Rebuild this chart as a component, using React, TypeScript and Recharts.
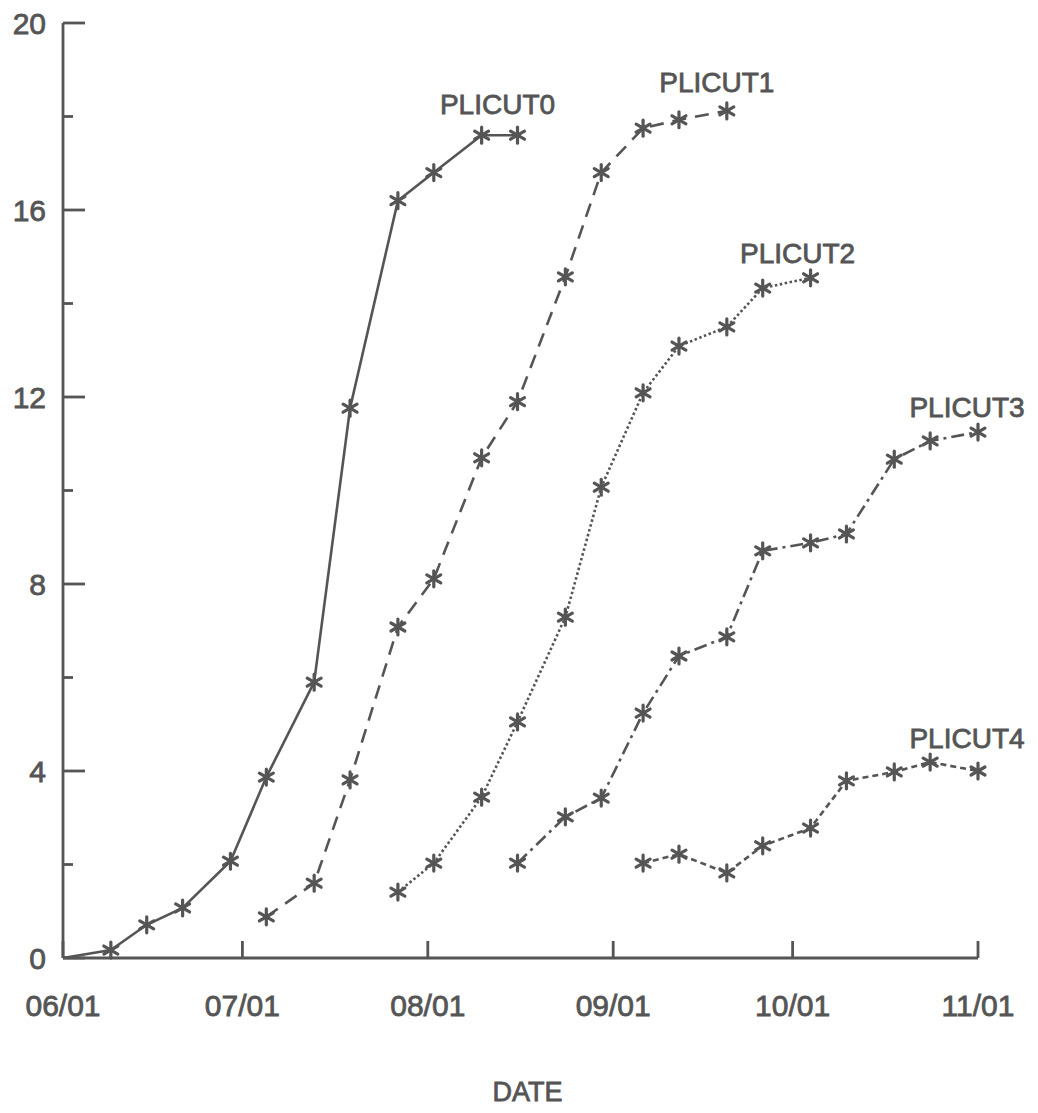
import { LineChart, Line, XAxis, YAxis, LabelList } from "recharts";

const INK = "#555555";
const FONT = '"Liberation Sans", Arial, sans-serif';

// sampling dates as days after 06/01
const SAMPLE_DAYS = [0, 8, 14, 20, 28, 34, 42, 48, 56, 62, 70, 76, 84, 90, 97, 103, 111, 117, 125, 131, 139, 145, 153];

// each cut starts at a later sampling date
const PLICUT0 = [0, 0.17, 0.71, 1.07, 2.07, 3.87, 5.9, 11.76, 16.2, 16.8, 17.6, 17.6];
const PLICUT1 = [0.88, 1.6, 3.81, 7.08, 8.11, 10.7, 11.9, 14.57, 16.8, 17.75, 17.93, 18.12];
const PLICUT2 = [1.41, 2.03, 3.44, 5.05, 7.29, 10.07, 12.09, 13.09, 13.5, 14.33, 14.55];
const PLICUT3 = [2.03, 3.02, 3.42, 5.24, 6.46, 6.87, 8.71, 8.88, 9.07, 10.67, 11.06, 11.25];
const PLICUT4 = [2.03, 2.22, 1.82, 2.4, 2.78, 3.79, 3.98, 4.19, 4.0];

const SERIES_NAMES = ["PLICUT0", "PLICUT1", "PLICUT2", "PLICUT3", "PLICUT4"];
const SERIES_START = [0, 5, 8, 11, 14];
const SERIES_VALUES = [PLICUT0, PLICUT1, PLICUT2, PLICUT3, PLICUT4];

const MONTH_TICKS = [0, 30, 61, 92, 122, 153];
const MONTH_LABELS = ["06/01", "07/01", "08/01", "09/01", "10/01", "11/01"];
const VALUE_TICKS = [0, 2, 4, 6, 8, 10, 12, 14, 16, 18, 20];

// line pattern + where the name sits relative to the last point
const LOOK: Record<string, { dash?: string; labelDx: number; labelDy: number }> = {
  PLICUT0: { dash: undefined, labelDx: -20, labelDy: -21 },
  PLICUT1: { dash: "14 9", labelDx: -10, labelDy: -19 },
  PLICUT2: { dash: "2.5 2.5", labelDx: -13, labelDy: -15 },
  PLICUT3: { dash: "13 5 3 5", labelDx: -11, labelDy: -15 },
  PLICUT4: { dash: "6 4", labelDx: -11, labelDy: -23 },
};

// thin outline so the lettering reads as heavy as pen lettering
const textInk = { fill: INK, stroke: INK, strokeWidth: 0.8, fontFamily: FONT };

const series = SERIES_NAMES.map((name, s) => ({
  name,
  data: SERIES_VALUES[s].map((v, i) => ({ day: SAMPLE_DAYS[SERIES_START[s] + i], v })),
}));

function Asterisk({ cx, cy, payload }: any) {
  if (cx == null || cy == null || payload?.v === 0) return <g />;
  const r = 8;
  const a = r * 0.87;
  const b = r * 0.5;
  return (
    <g stroke={INK} strokeWidth={3.2} strokeLinecap="round">
      <line x1={cx} y1={cy - r} x2={cx} y2={cy + r} />
      <line x1={cx - a} y1={cy - b} x2={cx + a} y2={cy + b} />
      <line x1={cx - a} y1={cy + b} x2={cx + a} y2={cy - b} />
    </g>
  );
}

function MonthTick({ x, y, payload }: any) {
  const i = MONTH_TICKS.indexOf(payload.value);
  return (
    <g>
      <line x1={x} y1={y} x2={x} y2={y - 17} stroke={INK} strokeWidth={2.8} />
      <text x={x} y={y + 58} textAnchor="middle" fontSize={30} {...textInk}>
        {MONTH_LABELS[i]}
      </text>
    </g>
  );
}

function ValueTick({ x, y, payload }: any) {
  const major = payload.value % 4 === 0;
  return (
    <g>
      <line x1={x} y1={y} x2={x + (major ? 22 : 10)} y2={y} stroke={INK} strokeWidth={2.8} />
      {major && (
        <text x={x - 17} y={y} dy="0.36em" textAnchor="end" fontSize={30} {...textInk}>
          {payload.value}
        </text>
      )}
    </g>
  );
}

function nameLabel(name: string, last: number) {
  const { labelDx, labelDy } = LOOK[name];
  return (props: any) => {
    if (props.index !== last) return null;
    return (
      <text key={name} x={props.x + labelDx} y={props.y + labelDy} textAnchor="middle" fontSize={28} {...textInk}>
        {name}
      </text>
    );
  };
}

export default function App() {
  return (
    <div style={{ background: "#fff", width: 1038, height: 1113 }}>
      <style>{"body{margin:0;background:#fff}"}</style>
      <LineChart width={1038} height={1113} margin={{ top: 23, right: 60, bottom: 0, left: 0 }}>
        <XAxis
          type="number"
          dataKey="day"
          domain={[0, 153]}
          ticks={MONTH_TICKS}
          tickSize={0}
          tickMargin={0}
          tick={<MonthTick />}
          axisLine={{ stroke: INK, strokeWidth: 2.8 }}
          height={155}
          label={{ value: "DATE", position: "insideBottom", offset: 12, dx: 7, fontSize: 27, ...textInk }}
        />
        <YAxis
          type="number"
          domain={[0, 20]}
          ticks={VALUE_TICKS}
          tickSize={0}
          tickMargin={0}
          tick={<ValueTick />}
          axisLine={{ stroke: INK, strokeWidth: 2.8 }}
          width={63}
        />
        {series.map((s) => (
          <Line
            key={s.name}
            data={s.data}
            dataKey="v"
            name={s.name}
            type="linear"
            stroke={INK}
            strokeWidth={2.6}
            strokeDasharray={LOOK[s.name].dash}
            dot={(p: any) => <Asterisk key={`${s.name}-${p.index}`} {...p} />}
            activeDot={false}
            isAnimationActive={false}
          >
            <LabelList dataKey="v" content={nameLabel(s.name, s.data.length - 1)} />
          </Line>
        ))}
      </LineChart>
    </div>
  );
}
